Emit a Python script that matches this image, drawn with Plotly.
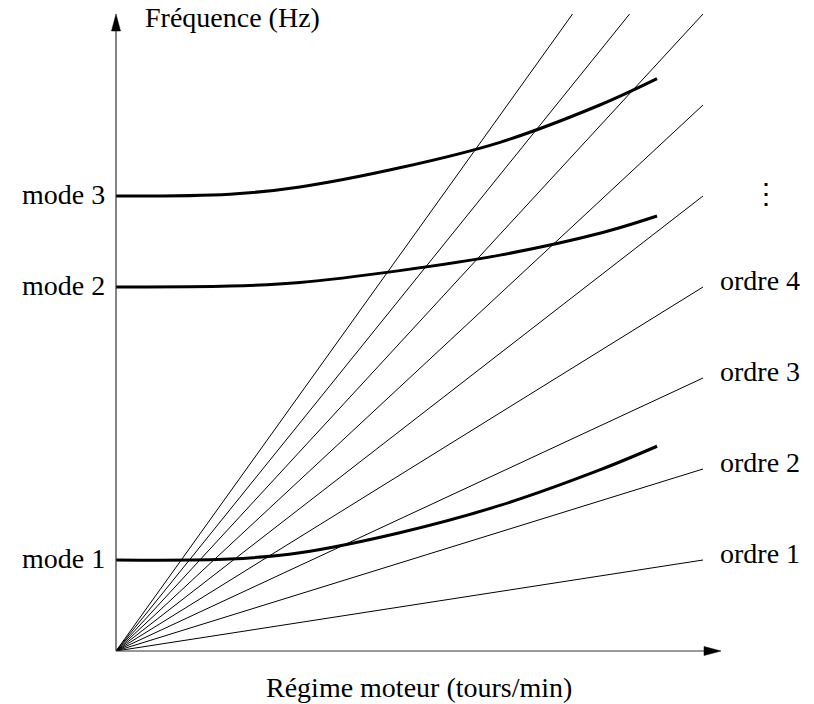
import plotly.graph_objects as go

# Data (engine speed in rpm, frequency in Hz)
orders = [1, 2, 3, 4, 5, 6, 7, 8, 9]
order_labels = ["ordre 1", "ordre 2", "ordre 3", "ordre 4"]
rpm_max = 6000
freq_max = 700

mode_rpm = [0, 1165, 1880, 2900, 3925, 4945, 5530]
mode1 = [100, 101, 108, 130, 160, 199, 225]
mode2 = [400, 401, 405, 418, 435, 459, 478]
mode3 = [500, 502, 510, 531, 559, 600, 629]
mode_labels = ["mode 1", "mode 2", "mode 3"]

FONT = "Liberation Serif"
FS = 28

fig = go.Figure()

for k in orders:
    fig.add_trace(go.Scatter(
        x=[0, rpm_max], y=[0, k * rpm_max / 60],
        mode="lines", line=dict(color="black", width=1),
        hoverinfo="skip", showlegend=False))

for m in (mode1, mode2, mode3):
    fig.add_trace(go.Scatter(
        x=mode_rpm, y=m, mode="lines",
        line=dict(color="black", width=3, shape="spline", smoothing=1.0),
        hoverinfo="skip", showlegend=False))

annotations = []
for lab, m in zip(mode_labels, (mode1, mode2, mode3)):
    annotations.append(dict(x=0, y=m[0], xref="x", yref="y", text=lab,
                            showarrow=False, xanchor="right", yanchor="middle",
                            xshift=-9, yshift=2,
                            font=dict(family=FONT, size=FS, color="black")))
for i, lab in enumerate(order_labels):
    k = orders[i]
    annotations.append(dict(x=rpm_max, y=k * rpm_max / 60, xref="x", yref="y",
                            text=lab, showarrow=False, xanchor="left",
                            yanchor="middle", xshift=15, yshift=7,
                            font=dict(family=FONT, size=FS, color="black")))
# vertical ellipsis
annotations.append(dict(x=rpm_max, y=orders[4] * rpm_max / 60 + 3, xref="x", yref="y",
                        text="⋮", showarrow=False, xanchor="center",
                        yanchor="middle", xshift=63, yshift=0,
                        font=dict(family="DejaVu Serif", size=28, color="black")))
# axis titles
annotations.append(dict(x=0.046, y=0.994, xref="paper", yref="paper",
                        text="Fréquence (Hz)", showarrow=False,
                        xanchor="left", yanchor="middle",
                        font=dict(family=FONT, size=FS, color="black")))
annotations.append(dict(x=0.516, y=-0.058, xref="paper", yref="paper",
                        text="Régime moteur (tours/min)", showarrow=False,
                        xanchor="center", yanchor="middle",
                        font=dict(family=FONT, size=FS, color="black")))

# axes with arrowheads (paper coords)
W, H = 587.0, 637.0
def px(dx):
    return dx / W
def py(dy):
    return dy / H

shapes = [
    dict(type="line", xref="paper", yref="paper", x0=0, y0=0, x1=px(592), y1=0,
         line=dict(color="#333", width=1.2)),
    dict(type="line", xref="paper", yref="paper", x0=0, y0=0, x1=0, y1=1 - py(14),
         line=dict(color="#333", width=1.2)),
    dict(type="path", xref="paper", yref="paper",
         path=f"M {px(605)},0 L {px(588)},{py(4.5)} L {px(588)},{-py(4.5)} Z",
         fillcolor="black", line=dict(color="black", width=0.5)),
    dict(type="path", xref="paper", yref="paper",
         path=f"M 0,1 L {-px(4.5)},{1 - py(17)} L {px(4.5)},{1 - py(17)} Z",
         fillcolor="black", line=dict(color="black", width=0.5)),
]

fig.update_layout(
    width=814, height=704,
    margin=dict(l=116, r=111, t=14, b=53),
    paper_bgcolor="white", plot_bgcolor="white",
    xaxis=dict(range=[0, rpm_max], visible=False, fixedrange=True),
    yaxis=dict(range=[0, freq_max], visible=False, fixedrange=True),
    annotations=annotations, shapes=shapes, showlegend=False,
)

fig.write_html("out.html")
